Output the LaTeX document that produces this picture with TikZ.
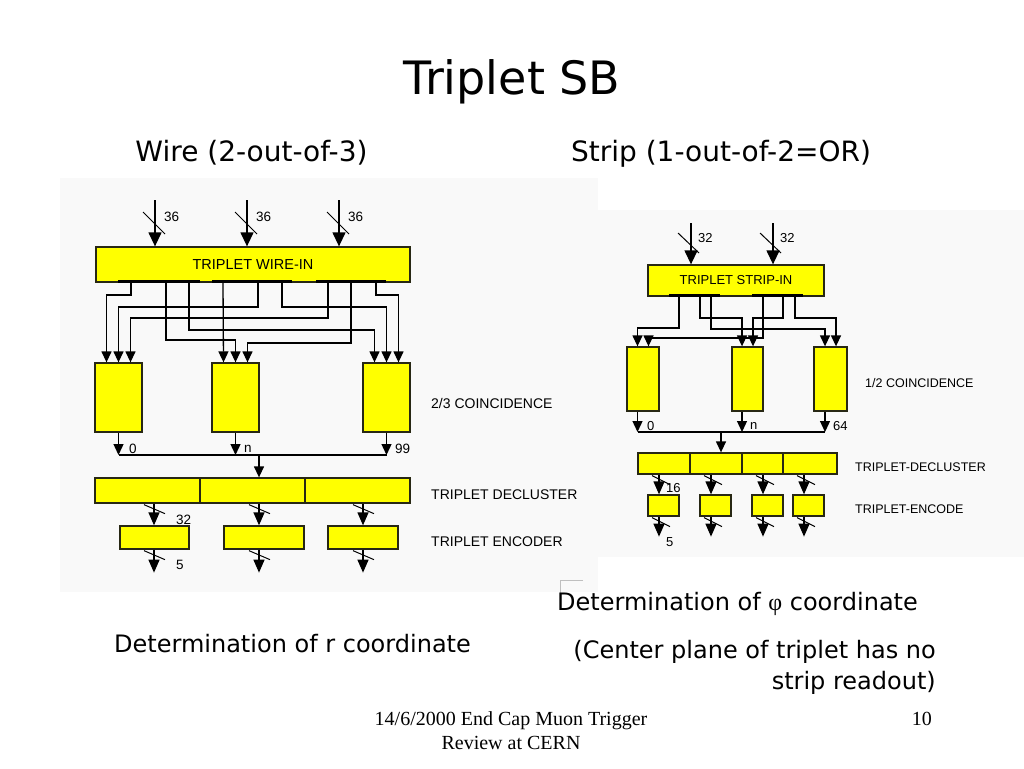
\documentclass[tikz,border=0pt]{standalone}
\usepackage{fontspec}
\setmainfont{DejaVu Sans}
\newfontfamily\arialf{Liberation Sans}
\newfontfamily\seriff{Liberation Serif}
\usetikzlibrary{arrows.meta,calc}
\definecolor{yel}{RGB}{255,255,0}
\definecolor{bgg}{RGB}{249,249,249}
\definecolor{edge}{RGB}{40,40,20}
\tikzset{
  ln/.style={line width=1.3pt},
  ar/.style={ln,-{Triangle[width=10pt,length=11pt]}},
  arm/.style={ln,-{Triangle[width=11pt,length=13pt]}},
  arb/.style={ln,-{Triangle[width=13pt,length=14pt]}},
  ybox/.style={draw=edge, line width=1.3pt, fill=yel, inner sep=0pt},
  busbar/.style={line width=3.5pt},
  slashln/.style={line width=1pt},
  lbl/.style={font=\arialf\fontsize{14}{16}\selectfont, inner sep=0pt, anchor=west},
  lbls/.style={font=\arialf\fontsize{12.5}{14}\selectfont, inner sep=0pt, anchor=west},
  num/.style={font=\arialf\fontsize{13.5}{15}\selectfont, inner sep=0pt, anchor=west},
  nums/.style={font=\arialf\fontsize{13}{14}\selectfont, inner sep=0pt, anchor=west},
  captxt/.style={font=\fontsize{24}{28}\selectfont, inner sep=0pt, anchor=base},
}
\begin{document}
\begin{tikzpicture}[x=1pt,y=-1pt]
\useasboundingbox (0,0) rectangle (1024,768);
\fill[white] (0,0) rectangle (1024,768);
\fill[bgg] (60,178) rectangle (598,592);
\fill[bgg] (594,210) rectangle (1024,557);
\draw[black!25, line width=0.8pt] (583,580) -- (560,580) -- (560,598);

% ---------- texts ----------
\node[font=\fontsize{46}{50}\selectfont, inner sep=0pt, anchor=base] (title) at (512,94) {Triplet SB};
\node[font=\fontsize{28}{32}\selectfont, inner sep=0pt, anchor=base] (hw) at (251.5,161) {Wire (2-out-of-3)};
\node[font=\fontsize{28}{32}\selectfont, inner sep=0pt, anchor=base] (hs) at (721,161) {Strip (1-out-of-2=OR)};
\node[captxt] (cphi) at (737.5,610) {Determination of {\seriff φ} coordinate};
\node[captxt] (cr) at (292.5,652) {Determination of r coordinate};
\node[captxt, anchor=base east] (cc1) at (936,658) {(Center plane of triplet has no};
\node[captxt, anchor=base east] (cc2) at (936,689) {strip readout)};
\node[font=\seriff\fontsize{20}{24}\selectfont, inner sep=0pt, anchor=base] (f1) at (511,725) {14/6/2000 End Cap Muon Trigger};
\node[font=\seriff\fontsize{20}{24}\selectfont, inner sep=0pt, anchor=base] (f2) at (511,749) {Review at CERN};
\node[font=\seriff\fontsize{20}{24}\selectfont, inner sep=0pt, anchor=base east] (pg) at (932,725) {10};

% ================= LEFT: WIRE =================
\node[ybox, minimum width=314pt, minimum height=35pt, font=\arialf\fontsize{14.5}{16}\selectfont] (win) at (253,264.5) {TRIPLET WIRE-IN};
\foreach \x [count=\i] in {155,247,339}{
  \coordinate (wi\i) at (\x,200);
  \draw[arb] (wi\i) -- (wi\i |- win.north);
  \draw[slashln] ($(wi\i)+(-12,12)$) -- ++(22,22);
  \node[num] (wn\i) at ($(wi\i)+(9,17)$) {36};
}
\draw[busbar] (118,281.5) -- (200,281.5);
\draw[busbar] (212,281.5) -- (292,281.5);
\draw[busbar] (316,281.5) -- (386,281.5);

\node[ybox, minimum width=47pt, minimum height=69pt] (c1) at (118.5,397.5) {};
\node[ybox, minimum width=47pt, minimum height=69pt] (c2) at (235.5,397.5) {};
\node[ybox, minimum width=47pt, minimum height=69pt] (c3) at (386.5,397.5) {};
\foreach \c in {c1,c2,c3}{
  \coordinate (\c a) at ($(\c.north)+(-12,0)$);
  \coordinate (\c b) at (\c.north);
  \coordinate (\c c) at ($(\c.north)+(12,0)$);
}
\foreach \tx/\dy/\tg in {131/12/c1a, 166/57/c2b, 189/47/c3a, 258/24/c1b, 282/24/c3b, 328/35/c1c, 351/60/c2c, 376/12/c3c}{
  \coordinate (tap) at (\tx,283);
  \draw[ar] (tap) -- ++(0,\dy) -| (\tg);
}
\coordinate (tapm) at (223,283);
\draw[ar] (tapm) -- (c2a);

\coordinate (busL) at (118.5,455);
\coordinate (busR) at (386.5,455);
\draw[ln] (busL) -- (busR);
\foreach \c in {c1,c2,c3}{
  \draw[ar] (\c.south) -- (\c.south |- busL);
}
\node[num] (o0) at (129,449) {0};
\node[num] (on) at (244,449) {n};
\node[num] (o99) at (395,449) {99};

\node[ybox, minimum width=105pt, minimum height=25pt] (d1) at (147.5,490.5) {};
\node[ybox, minimum width=105pt, minimum height=25pt] (d2) at (252.5,490.5) {};
\node[ybox, minimum width=105pt, minimum height=25pt] (d3) at (357.5,490.5) {};
\coordinate (bm) at (259,455);
\draw[ar] (bm) -- (bm |- d2.north);

\node[ybox, minimum width=69pt, minimum height=23pt] (e1) at (154.5,537.5) {};
\node[ybox, minimum width=80pt, minimum height=23pt] (e2) at (264,537.5) {};
\node[ybox, minimum width=70pt, minimum height=23pt] (e3) at (363,537.5) {};
\foreach \x/\d/\e [count=\i] in {154/d1/e1, 259/d2/e2, 363/d3/e3}{
  \coordinate (ax\i) at (\x,0);
  \draw[arm] (ax\i |- \d.south) -- (ax\i |- \e.north);
  \draw[slashln] ($(ax\i |- \d.south)+(-10,1)$) -- ++(21,9);
  \draw[arm] (ax\i |- \e.south) -- ++(0,23);
  \draw[slashln] ($(ax\i |- \e.south)+(-10,1)$) -- ++(21,9);
}
\node[num] (n32) at (176,520) {32};
\node[num] (n5) at (176,565) {5};

\node[lbl] (lc) at (431,403) {2/3 COINCIDENCE};
\node[lbl] (ld) at (431,495) {TRIPLET DECLUSTER};
\node[lbl] (le) at (431,542) {TRIPLET ENCODER};

% ================= RIGHT: STRIP =================
\node[ybox, minimum width=176pt, minimum height=31pt, font=\arialf\fontsize{13}{14}\selectfont] (sin) at (736,280.5) {TRIPLET STRIP-IN};
\foreach \x [count=\i] in {691,773}{
  \coordinate (si\i) at (\x,223);
  \draw[arb] (si\i) -- (si\i |- sin.north);
  \draw[slashln] ($(si\i)+(-13,10)$) -- ++(21,20);
  \node[nums] (sn\i) at ($(si\i)+(7,15)$) {32};
}
\draw[busbar] (669,295.5) -- (720,295.5);
\draw[busbar] (752,295.5) -- (803,295.5);

\node[ybox, minimum width=32pt, minimum height=64pt] (r1) at (643,379) {};
\node[ybox, minimum width=31pt, minimum height=64pt] (r2) at (747.5,379) {};
\node[ybox, minimum width=33pt, minimum height=64pt] (r3) at (830.5,379) {};
\foreach \c in {r1,r2,r3}{
  \coordinate (\c a) at ($(\c.north)+(-5.5,0)$);
  \coordinate (\c b) at ($(\c.north)+(5.5,0)$);
}
\foreach \tx/\dy/\tg in {679/31/r1a, 700/21/r2a, 711/32/r3a, 763/41/r1b, 783/21/r2b, 795/21/r3b}{
  \coordinate (stap) at (\tx,297);
  \draw[ar] (stap) -- ++(0,\dy) -| (\tg);
}
\coordinate (sbusL) at (637.5,432);
\coordinate (sbusR) at (825,432);
\draw[ln] (sbusL) -- (sbusR);
\foreach \c in {r1,r2,r3}{
  \draw[ar] (\c a |- \c.south) -- (\c a |- sbusL);
}
\node[nums] (s0) at (647,426) {0};
\node[nums] (sn) at (750,426) {n};
\node[nums] (s64) at (833,426) {64};

\node[ybox, minimum width=52pt, minimum height=21pt] (q1) at (664,463.5) {};
\node[ybox, minimum width=52pt, minimum height=21pt] (q2) at (716,463.5) {};
\node[ybox, minimum width=41pt, minimum height=21pt] (q3) at (762.5,463.5) {};
\node[ybox, minimum width=54pt, minimum height=21pt] (q4) at (810,463.5) {};
\coordinate (sbm) at (721,432);
\draw[ar] (sbm) -- (sbm |- q2.north);

\node[ybox, minimum width=31pt, minimum height=21pt] (g1) at (663.5,505.5) {};
\node[ybox, minimum width=31pt, minimum height=21pt] (g2) at (715.5,505.5) {};
\node[ybox, minimum width=31pt, minimum height=21pt] (g3) at (767.5,505.5) {};
\node[ybox, minimum width=31pt, minimum height=21pt] (g4) at (808.5,505.5) {};
\foreach \x/\d/\e [count=\i] in {659/q1/g1, 711/q2/g2, 763/q3/g3, 804/q4/g4}{
  \coordinate (sx\i) at (\x,0);
  \draw[arm] (sx\i |- \d.south) -- (sx\i |- \e.north);
  \draw[slashln] ($(sx\i |- \d.south)+(-7,1)$) -- ++(18,9);
  \draw[arm] (sx\i |- \e.south) -- ++(0,20);
  \draw[slashln] ($(sx\i |- \e.south)+(-7,1)$) -- ++(18,9);
}
\node[nums] (s16) at (666,488) {16};
\node[nums] (s5) at (666,542) {5};

\node[lbls] (rc) at (865,383) {1/2 COINCIDENCE};
\node[lbls] (rd) at (855,467) {TRIPLET-DECLUSTER};
\node[lbls] (re) at (855,509) {TRIPLET-ENCODE};
\end{tikzpicture}
\end{document}
